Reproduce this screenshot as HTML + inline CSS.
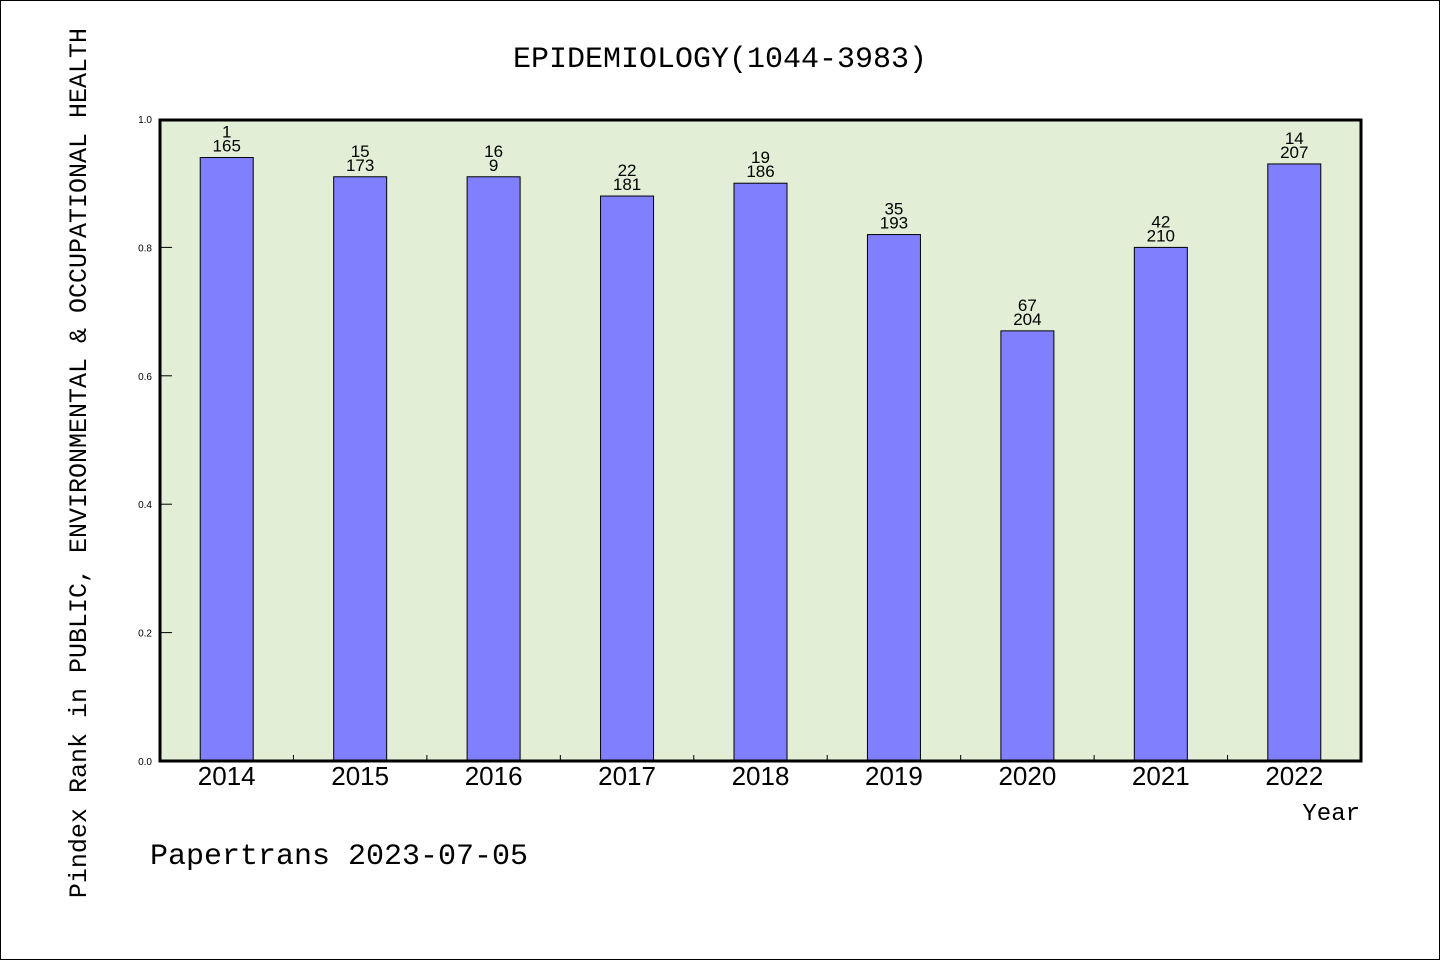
<!DOCTYPE html>
<html><head><meta charset="utf-8"><style>
html,body{margin:0;padding:0;background:#fff}
svg{display:block}
</style></head><body>
<svg width="1440" height="960" xmlns="http://www.w3.org/2000/svg">
<rect x="0.5" y="0.5" width="1439" height="959" fill="#fff" stroke="#000"/>
<text x="720" y="67" text-anchor="middle" font-family="Liberation Mono, monospace" font-size="30">EPIDEMIOLOGY(1044-3983)</text>
<rect x="160" y="119" width="1201" height="642" fill="#e2efd6"/>
<g id="bars"></g>
<rect x="160" y="120" width="1201" height="641" fill="none" stroke="#000" stroke-width="3"/>
<text transform="translate(86,463) rotate(-90)" text-anchor="middle" font-family="Liberation Mono, monospace" font-size="25">Pindex Rank in PUBLIC, ENVIRONMENTAL &amp; OCCUPATIONAL HEALTH</text>
<text x="1360" y="820" text-anchor="end" font-family="Liberation Mono, monospace" font-size="24">Year</text>
<text x="150" y="864" font-family="Liberation Mono, monospace" font-size="30">Papertrans 2023-07-05</text>
</svg>
<script>
const categories=["2014","2015","2016","2017","2018","2019","2020","2021","2022"];
const values=[0.94,0.91,0.91,0.88,0.90,0.82,0.67,0.80,0.93];
const rankTop=["1","15","16","22","19","35","67","42","14"];
const rankBottom=["165","173","9","181","186","193","204","210","207"];
const yTicks=[0,0.2,0.4,0.6,0.8,1.0];
const NS="http://www.w3.org/2000/svg";
const L=160,R=1361,T=119,B=761;
const bw=(R-L)/categories.length;
const xC=i=>L+bw*(i+0.5);
const y=v=>B-v*(B-T);
const g=document.getElementById('bars');
function mk(t,a){const e=document.createElementNS(NS,t);for(const k in a)e.setAttribute(k,a[k]);return e;}
categories.forEach((c,i)=>{
  const r=mk('rect',{x:xC(i)-26.5,y:y(values[i]),width:53,height:B-y(values[i]),fill:'#8080ff',stroke:'#000','stroke-width':1});
  
  
  g.appendChild(r);
  const t1=mk('text',{x:xC(i),y:y(values[i])-20,'text-anchor':'middle','font-family':'Liberation Sans, sans-serif','font-size':17});
  t1.textContent=rankTop[i];
  
  
  g.appendChild(t1);
  const t2=mk('text',{x:xC(i),y:y(values[i])-6,'text-anchor':'middle','font-family':'Liberation Sans, sans-serif','font-size':17});
  t2.textContent=rankBottom[i];
  
  
  g.appendChild(t2);
  const xl=mk('text',{x:xC(i),y:785,'text-anchor':'middle','font-family':'Liberation Sans, sans-serif','font-size':26});
  xl.textContent=c;
  
  
  g.appendChild(xl);
  if(i>0){
    const tk=mk('line',{x1:L+bw*i,x2:L+bw*i,y1:B,y2:B-6,stroke:'#000'});
    
    
    g.appendChild(tk);
  }
});
yTicks.forEach(v=>{
  const tk=mk('line',{x1:L,x2:L+12,y1:y(v),y2:y(v),stroke:'#000'});
  
  
  g.appendChild(tk);
  const t=mk('text',{x:152,y:y(v)+4,'text-anchor':'end','font-family':'Liberation Sans, sans-serif','font-size':10});
  t.textContent=v.toFixed(1);
  
  
  g.appendChild(t);
});
</script>
</body></html>
